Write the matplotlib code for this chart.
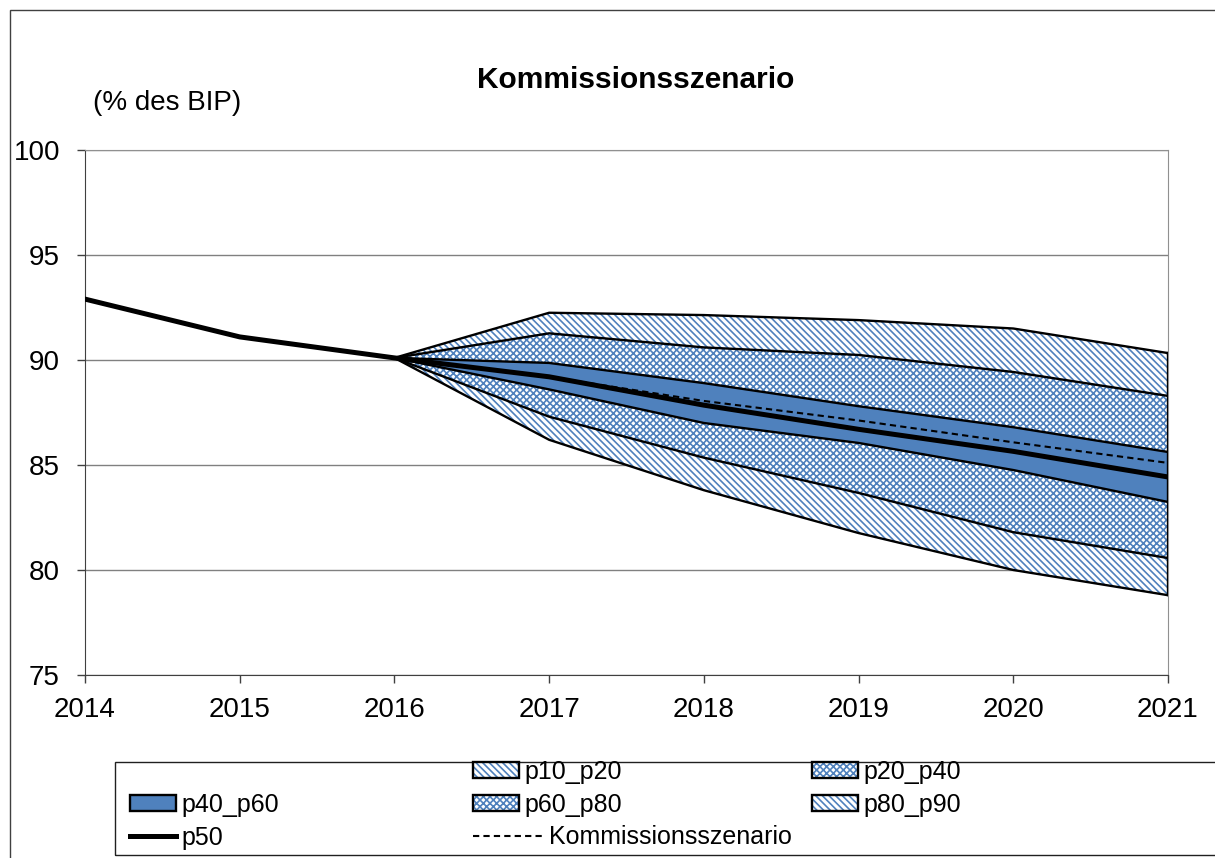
import numpy as np
import matplotlib
matplotlib.use('Agg')
import matplotlib.pyplot as plt
from matplotlib.patches import Patch, Rectangle
from matplotlib.lines import Line2D
from matplotlib.legend_handler import HandlerTuple

plt.rcParams['font.family'] = ['Liberation Sans', 'DejaVu Sans']
plt.rcParams['hatch.linewidth'] = 1.2

# --- data ---
years = [2014, 2015, 2016, 2017, 2018, 2019, 2020, 2021]
p50 = [92.9, 91.1, 90.1, 89.2, 87.85, 86.7, 85.65, 84.43]

fanYears = [2016, 2017, 2018, 2019, 2020, 2021]
p10 = [90.1, 86.2, 83.8, 81.76, 80.0, 78.8]
p20 = [90.1, 87.3, 85.35, 83.67, 81.8, 80.57]
p40 = [90.1, 88.6, 87.0, 86.05, 84.76, 83.24]
p60 = [90.1, 89.86, 88.9, 87.8, 86.8, 85.62]
p80 = [90.1, 91.27, 90.6, 90.24, 89.43, 88.29]
p90 = [90.1, 92.25, 92.14, 91.9, 91.5, 90.33]
kommission = [90.1, 89.2, 88.05, 87.12, 86.08, 85.1]

blue = '#4F81BD'
diagHatch = '\\\\\\\\\\'
checkHatch = 'xxxxx'

fig = plt.figure(figsize=(12.15, 8.58), dpi=100)
ax = fig.add_axes([85/1215, 1 - 675/858, (1168 - 85)/1215, (675 - 150)/858])

def band(lo, hi, hatch=None, solid=False):
    if solid:
        ax.fill_between(fanYears, lo, hi, facecolor=blue, edgecolor='none', lw=0, zorder=2)
    else:
        ax.fill_between(fanYears, lo, hi, facecolor='white', edgecolor=blue, hatch=hatch, lw=0, zorder=2)

band(p10, p20, diagHatch)
band(p20, p40, checkHatch)
band(p40, p60, solid=True)
band(p60, p80, checkHatch)
band(p80, p90, diagHatch)

for s in [p10, p20, p40, p60, p80, p90]:
    ax.plot(fanYears, s, color='black', lw=1.7, zorder=3)
ax.plot([2021, 2021], [p10[-1], p90[-1]], color='black', lw=1.7, zorder=3)

ax.plot(fanYears, kommission, color='black', lw=1.5, ls=(0, (3, 2)), zorder=4)
ax.plot(years, p50, color='black', lw=3.6, zorder=5)

ax.set_xlim(2014, 2021)
ax.set_ylim(75, 100)
ax.set_xticks(years)
ax.set_yticks([75, 80, 85, 90, 95, 100])
ax.yaxis.grid(True, color='#808080', lw=1)
ax.set_axisbelow(True)
ax.tick_params(axis='both', labelsize=20, length=6, width=1, color='#404040')
ax.tick_params(axis='y', pad=12)
ax.tick_params(axis='x', pad=10)
for side in ['left', 'bottom']:
    ax.spines[side].set_color('#404040')
for side in ['top', 'right']:
    ax.spines[side].set_color('#909090')

fig.text(636/1215, 1 - 80/858, 'Kommissionsszenario', ha='center', va='center',
         fontsize=21.5, fontweight='bold')
fig.text(93/1215, 1 - 103/858, '(% des BIP)', ha='left', va='center', fontsize=20)

# outer chart frame and legend box
fig.patches.append(Rectangle((10/1215, -0.05), 1.1, 1 - 10/858 + 0.05, transform=fig.transFigure,
                             fill=False, edgecolor='#404040', lw=1))
fig.patches.append(Rectangle((115/1215, 1 - 855/858), 1.1, (855 - 762)/858, transform=fig.transFigure,
                             fill=False, edgecolor='#202020', lw=1))

def hatchHandle(hatch):
    fillPart = Patch(facecolor='white', edgecolor=blue, hatch=hatch, lw=0)
    edgePart = Patch(facecolor='none', edgecolor='black', lw=1.7)
    return (fillPart, edgePart)

blank = Line2D([], [], color='none')
solidHandle = Patch(facecolor=blue, edgecolor='black', lw=1.7)
p50Handle = Line2D([], [], color='black', lw=3.6)
komHandle = Line2D([], [], color='black', lw=1.5, ls=(0, (3, 2)))

# (x position, handle length, handles, labels)
columns = [
    (130, 1.85, [blank, solidHandle, p50Handle], ['', 'p40_p60', 'p50']),
    (473, 1.85, [hatchHandle(diagHatch), hatchHandle(checkHatch), blank], ['p10_p20', 'p60_p80', '']),
    (473, 2.85, [blank, blank, komHandle], ['', '', 'Kommissionsszenario']),
    (812, 1.85, [hatchHandle(checkHatch), hatchHandle(diagHatch), blank], ['p20_p40', 'p80_p90', '']),
]
for xpos, hlen, handles, labels in columns:
    leg = fig.legend(handles, labels, loc='upper left', bbox_to_anchor=(xpos/1215, 1 - 760/858),
                     frameon=False, fontsize=18, handlelength=hlen, handleheight=0.6,
                     handletextpad=0.2, labelspacing=0.35, borderpad=0, borderaxespad=0,
                     handler_map={tuple: HandlerTuple(ndivide=1)})

fig.savefig('out.png', dpi=100)
